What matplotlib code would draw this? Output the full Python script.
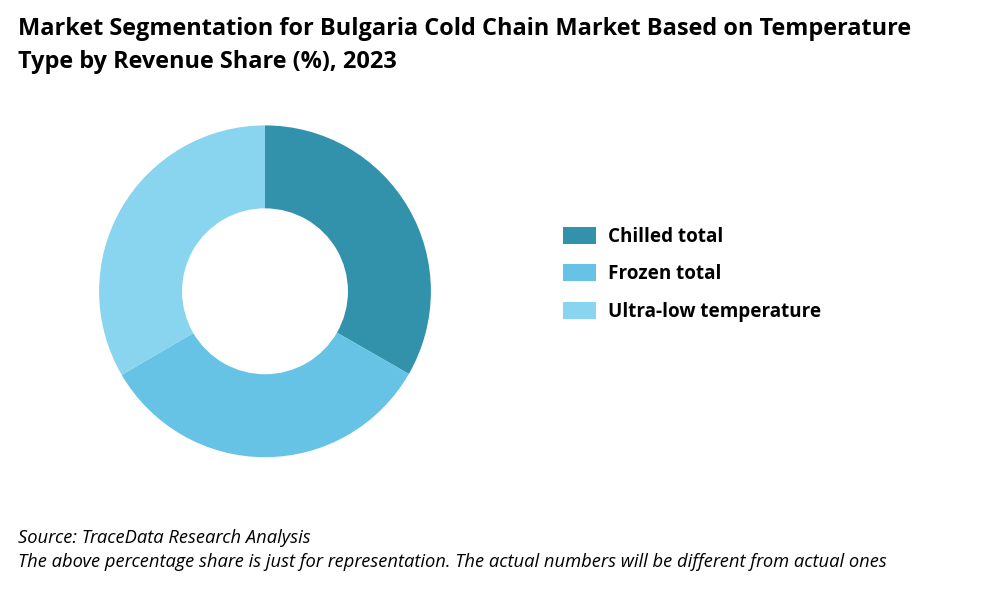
import matplotlib
matplotlib.use("Agg")
import matplotlib.pyplot as plt
from matplotlib.patches import Patch

categories = ["Chilled total", "Frozen total", "Ultra-low temperature"]
shares = [33.3, 33.3, 33.4]
colors = ["#3291AB", "#66C3E5", "#89D5F0"]

fig = plt.figure(figsize=(10, 6), dpi=100)
fig.patch.set_facecolor("white")
plt.rcParams["font.family"] = "Open Sans"

fig.text(0.018, 0.952, "Market Segmentation for Bulgaria Cold Chain Market Based on Temperature",
         fontsize=16.9, fontweight="bold", va="center", ha="left")
fig.text(0.018, 0.897, "Type by Revenue Share (%), 2023",
         fontsize=16.9, fontweight="bold", va="center", ha="left")

ax = fig.add_axes([0.099, 0.238, 0.332, 0.553])
ax.pie(shares, colors=colors, startangle=90, counterclock=False, radius=1,
       wedgeprops=dict(width=0.5, edgecolor="none"))
ax.set_xlim(-1, 1)
ax.set_ylim(-1, 1)
ax.set_aspect("equal")

handles = [Patch(facecolor=c, edgecolor="none") for c in colors]
leg = fig.legend(handles, categories, loc="center left", bbox_to_anchor=(0.548, 0.543),
                 frameon=False, prop={"weight": "bold", "size": 13.6},
                 handlelength=1.75, handleheight=1.0, labelspacing=0.92, handletextpad=0.65,
                 borderpad=0.3)

fig.text(0.018, 0.103, "Source: TraceData Research Analysis", fontsize=13.2, style="italic", va="center")
fig.text(0.018, 0.063, "The above percentage share is just for representation. The actual numbers will be different from actual ones",
         fontsize=13.2, style="italic", va="center")

fig.savefig("out.png", dpi=100)
